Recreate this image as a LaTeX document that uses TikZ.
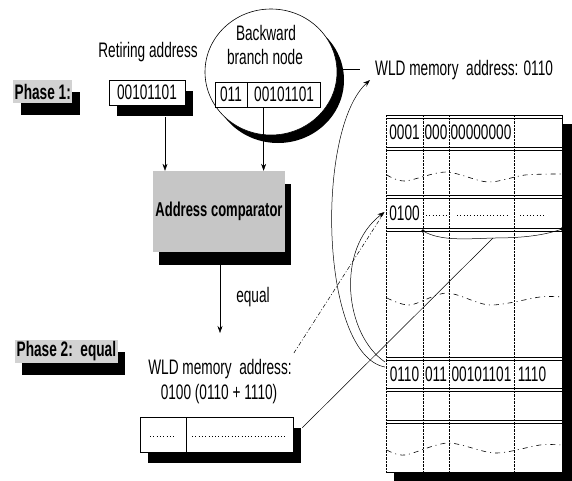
\documentclass[tikz,border=0pt]{standalone}
\usepackage{fontspec}
\setmainfont{Liberation Sans}[FakeStretch=0.65]
\usetikzlibrary{shapes.geometric,shadows,arrows.meta}
\begin{document}
\begin{tikzpicture}[x=1pt,y=-1pt,
 txt/.style={font=\fontsize{21}{23}\selectfont, inner sep=0pt},
 dig/.style={font=\fontsize{21}{23}\selectfont, inner sep=0pt},
 btxt/.style={font=\bfseries\fontsize{21}{23}\selectfont},
 shad/.style 2 args={drop shadow={shadow xshift=#1pt,shadow yshift=-#2pt,fill=black,opacity=1}},
 graylbl/.style={btxt, fill=gray!35, inner xsep=1.5pt, inner ysep=0pt, minimum height=23pt, anchor=west},
 cell/.style={draw=black, line width=0.6pt, fill=white, minimum height=25pt, inner sep=0pt, txt},
 arr/.style={-{Stealth[length=7pt,width=5pt]}, line width=0.5pt},
 thinln/.style={line width=0.5pt},
 dotfill/.style={line width=1pt, dash pattern=on 0.9pt off 2.4pt},
 wave/.style={line width=0.6pt, dash pattern=on 5pt off 4pt on 1pt off 4pt},
 memline/.style={line width=0.6pt},
 coldiv/.style={line width=0.4pt, densely dotted},
]
\useasboundingbox (0,0) rectangle (572,480);

% Phase 1 and retiring address
\node[graylbl, shad={8}{12}] (ph1) at (13,91.5) {Phase 1:};
\node[txt] (ret) at (148,52) {Retiring address};
\node[cell, minimum width=76pt, shad={8}{11}] (ra) at (147,92.5) {00101101};

% backward branch node
\node[draw, line width=0.6pt, fill=white, ellipse, minimum width=132pt, minimum height=126pt, shad={7}{8}] (bbn) at (271,72) {};
\node[txt] (bw) at (266,33) {Backward};
\node[txt] (bn) at (265,57) {branch node};
\node[cell, minimum width=32pt] (b1) at (231,94.5) {011};
\node[cell, minimum width=73pt, anchor=west] (b2) at (b1.east) {00101101};

% comparator
\node[fill=gray!45, minimum width=132pt, minimum height=81pt, inner sep=0pt, font=\bfseries\fontsize{20}{22}\selectfont, shad={6}{13}] (cmp) at (219,211.5) {Address comparator};

\draw[arr] ([xshift=18pt,yshift=-12pt]ra.south) -- ([xshift=18pt]ra.south |- cmp.north);
\draw[arr] ([xshift=-20.5pt]b2.south) -- ([xshift=-20.5pt]b2.south |- cmp.north);

\coordinate (eqend) at (220,333);
\draw[arr] ([xshift=1pt,yshift=-13pt]cmp.south) -- (eqend);
\node[txt] (eq) at (253,297) {equal};

% Phase 2
\node[graylbl, shad={7}{12}] (ph2) at (15,351.5) {Phase 2:\ \ equal};
\node[txt] (w2a) at (220,369) {WLD memory\ \ address:};
\node[txt] (w2b) at (219,394) {0100 (0110 + 1110)};

\node[draw, line width=0.6pt, fill=white, minimum width=153pt, minimum height=35pt, inner sep=0pt, shad={8}{11}] (db) at (216.5,434.5) {};
\draw[thinln] (186,417) -- (186,452);
\draw[dotfill] (150,436) -- (176,436);
\draw[dotfill] (192,436) -- (287,436);

% memory table
\fill (394,124) rectangle (572,481);
\fill[white] (385,115) rectangle (562,472);
\foreach \y in {115,118,147,150,195,198,228,231,357,360,388,391,420,423}
  \draw[memline] (386,\y) -- (562,\y);
\draw[memline] (562,115) -- (562,472) -- (386,472);
\draw[coldiv] (386,115) -- (386,472);
\foreach \x in {423,449,514} \draw[coldiv] (\x,115) -- (\x,472);

\draw[wave] plot[smooth] coordinates {(387,175) (405,181) (446,172) (488,182) (525,175) (562,174)};
\draw[wave] plot[smooth] coordinates {(387,298) (410,305) (447,293) (490,305) (540,297) (562,297)};
\draw[wave] plot[smooth] coordinates {(387,450) (405,455) (448,443) (495,453) (540,445) (562,445)};

\node[dig] (r1a) at (404.5,132.5) {0001};
\node[dig] (r1b) at (436,132.5) {000};
\node[dig] (r1c) at (481,132.5) {00000000};

\node[dig] (r2a) at (404.5,213.5) {0100};
\draw[dotfill] (426,215) -- (447,215);
\draw[dotfill] (457,215) -- (508,215);
\draw[dotfill] (520,215) -- (546,215);

\node[dig] (r3a) at (404.5,374) {0110};
\node[dig] (r3b) at (436,374) {011};
\node[dig] (r3c) at (481.5,374) {00101101};
\node[dig] (r3d) at (532,374) {1110};

\coordinate (arcL) at (423,231);
\coordinate (arcR) at (562,229);
\coordinate (arcM) at (493,238);
\draw[thinln] (arcL) .. controls (440,241) and (465,239) .. (arcM) .. controls (525,238) and (545,235) .. (arcR);
\fill (arcL) circle (1.8pt);
\fill (arcR) circle (1.8pt);

\draw[thinln] ([xshift=9pt,yshift=-11pt]db.north east) -- (arcM);

% WLD memory address 0110
\node[txt, anchor=west] (w1) at (375,70) {WLD memory\ \ address: 0110};
\draw[thinln] ([xshift=5pt,yshift=3pt]bbn.east) -- ([xshift=-15pt,yshift=1pt]w1.west);

\coordinate (r2tip) at (384.5,212);
\coordinate (r3L) at (385,367);
\coordinate (r3L2) at (385,362);
\coordinate (w1tip) at (370,80);
\draw[arr] (r3L) .. controls (320,355) and (315,130) .. (w1tip);
\draw[arr] (r3L2) .. controls (345,335) and (335,250) .. (r2tip);
\draw[thinln, dash pattern=on 4pt off 2pt on 1pt off 2pt] ([xshift=2pt,yshift=6pt]w2a.north east) -- (r2tip);
\end{tikzpicture}
\end{document}
